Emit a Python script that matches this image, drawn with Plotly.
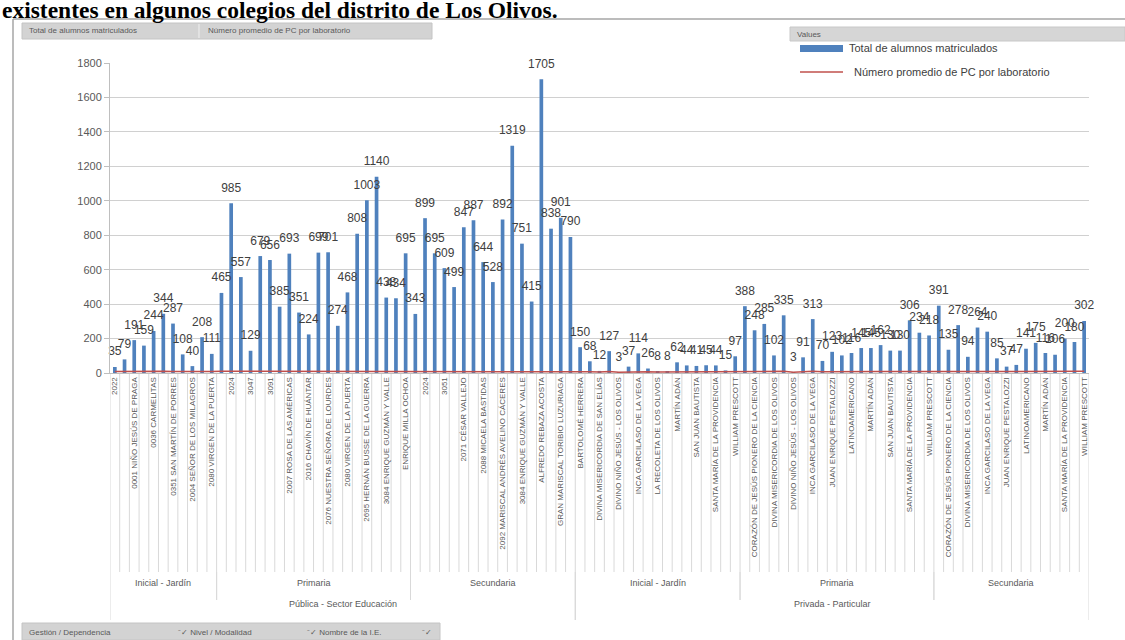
import plotly.graph_objects as go

# ---------------- data ----------------
gestion_labels = ["Pública - Sector Educación", "Privada - Particular"]
nivel_labels = ["Inicial - Jardín", "Primaria", "Secundaria"]

# Total de alumnos matriculados
pub_inicial = [35, 79, 191, 159, 244, 344, 287, 108, 40, 208, 111]
pub_primaria = [465, 985, 557, 129, 679, 656, 385, 693, 351, 224,
                699, 701, 274, 468, 808, 1003, 1140, 438, 434, 695]
pub_secundaria = [343, 899, 695, 609, 499, 847, 887, 644, 528, 892,
                  1319, 751, 415, 1705, 838, 901, 790]
priv_inicial = [150, 68, 12, 127, 3, 37, 114, 26, 8, 8, 62, 44, 41, 45, 44, 15, 97]
priv_primaria = [388, 248, 285, 102, 335, 3, 91, 313, 70, 123,
                 102, 116, 145, 145, 162, 130, 130, 306, 234, 218]
priv_secundaria = [391, 135, 278, 94, 264, 240, 85, 37, 47, 141,
                   175, 116, 106, 200, 180, 302]

# Número promedio de PC por laboratorio (estimated, near the baseline)
pc_pub_inicial = [8, 9, 10, 8, 9, 10, 9, 8, 7, 9, 8]
pc_pub_primaria = [10, 10, 10, 9, 10, 10, 9, 10, 9, 9, 10, 10, 9, 9, 10, 10, 11, 9, 9, 10]
pc_pub_secundaria = [9, 10, 10, 10, 9, 10, 10, 10, 9, 10, 11, 10, 9, 11, 10, 10, 10]
pc_priv_inicial = [8, 7, 6, 8, 5, 7, 8, 7, 6, 6, 7, 7, 7, 7, 7, 6, 8]
pc_priv_primaria = [10, 9, 9, 8, 10, 5, 8, 10, 7, 8, 8, 8, 9, 9, 9, 8, 8, 10, 9, 9]
pc_priv_secundaria = [10, 8, 9, 8, 9, 9, 8, 7, 7, 9, 9, 8, 8, 9, 9, 10]

# Visible (every other) category labels, per group
lab_pub_inicial = ["2022", "0001 NIÑO JESÚS DE PRAGA", "0036 CARMELITAS",
                   "0351 SAN MARTÍN DE PORRES", "2004 SEÑOR DE LOS MILAGROS",
                   "2080 VIRGEN DE LA PUERTA"]
lab_pub_primaria = ["2024", "3047", "3091", "2007 ROSA DE LAS AMÉRICAS",
                    "2016 CHAVÍN DE HUÁNTAR", "2076 NUESTRA SEÑORA DE LOURDES",
                    "2080 VIRGEN DE LA PUERTA", "2695 HERNÁN BUSSE DE LA GUERRA",
                    "3084 ENRIQUE GUZMÁN Y VALLE", "ENRIQUE MILLA OCHOA"]
lab_pub_secundaria = ["2024", "3051", "2071 CÉSAR VALLEJO", "2088 MICAELA BASTIDAS",
                      "2092 MARISCAL ANDRÉS AVELINO CÁCERES", "3084 ENRIQUE GUZMÁN Y VALLE",
                      "ALFREDO REBAZA ACOSTA", "GRAN MARISCAL TORIBIO LUZURIAGA"]
lab_priv_inicial = ["BARTOLOMÉ HERRERA", "DIVINA MISERICORDIA DE SAN ELÍAS",
                    "DIVINO NIÑO JESÚS - LOS OLIVOS", "INCA GARCILASO DE LA VEGA",
                    "LA RECOLETA DE LOS OLIVOS", "MARTÍN ADÁN", "SAN JUAN BAUTISTA",
                    "SANTA MARÍA DE LA PROVIDENCIA", "WILLIAM PRESCOTT"]
lab_priv_primaria = ["CORAZÓN DE JESÚS PIONERO DE LA CIENCIA", "DIVINA MISERICORDIA DE LOS OLIVOS",
                     "DIVINO NIÑO JESÚS - LOS OLIVOS", "INCA GARCILASO DE LA VEGA",
                     "JUAN ENRIQUE PESTALOZZI", "LATINOAMERICANO", "MARTÍN ADÁN",
                     "SAN JUAN BAUTISTA", "SANTA MARÍA DE LA PROVIDENCIA", "WILLIAM PRESCOTT"]
lab_priv_secundaria = ["CORAZÓN DE JESÚS PIONERO DE LA CIENCIA", "DIVINA MISERICORDIA DE LOS OLIVOS",
                       "INCA GARCILASO DE LA VEGA", "JUAN ENRIQUE PESTALOZZI", "LATINOAMERICANO",
                       "MARTÍN ADÁN", "SANTA MARÍA DE LA PROVIDENCIA", "WILLIAM PRESCOTT"]

groups = [
    (0, 0, pub_inicial, pc_pub_inicial, lab_pub_inicial),
    (0, 1, pub_primaria, pc_pub_primaria, lab_pub_primaria),
    (0, 2, pub_secundaria, pc_pub_secundaria, lab_pub_secundaria),
    (1, 0, priv_inicial, pc_priv_inicial, lab_priv_inicial),
    (1, 1, priv_primaria, pc_priv_primaria, lab_priv_primaria),
    (1, 2, priv_secundaria, pc_priv_secundaria, lab_priv_secundaria),
]

xs, ys, pcs, ticktext = [], [], [], []
nivel_spans, gestion_spans = [], {}
pos = 0
for g, n, vals, pcv, labs in groups:
    start = pos
    for v, p in zip(vals, pcv):
        xs.append(pos); ys.append(v); pcs.append(p)
        pos += 1
    nivel_spans.append((n, start, pos))
    gs = gestion_spans.get(g, [start, pos])
    gestion_spans[g] = [min(gs[0], start), max(gs[1], pos)]
    ticktext += labs
N = pos
tickvals = list(range(0, N, 2))

# ---------------- layout helpers (pixel -> paper) ----------------
W, H = 1125, 640
L, R, T, B = 110, 1089, 63, 373
def px(x):
    return (x - L) / (R - L)
def py(y):
    return (B - y) / (B - T)

GRAY_TXT = "#595959"
LINE = "#d0d0d0"
FONT = "Liberation Sans"

fig = go.Figure()
fig.add_trace(go.Bar(
    x=xs, y=ys, width=0.38, name="Total de alumnos matriculados",
    marker=dict(color="#4F81BD", line=dict(width=0)),
    showlegend=False, hoverinfo="x+y",
))
fig.add_trace(go.Scatter(
    x=xs, y=pcs, mode="lines", name="Número promedio de PC por laboratorio",
    line=dict(color="#C0504D", width=1.5), showlegend=False,
))
# data labels of the bars
fig.add_trace(go.Scatter(
    x=xs, y=ys, mode="markers+text", text=[str(v) for v in ys],
    textposition="top center", marker=dict(size=12, opacity=0),
    textfont=dict(family=FONT, size=12, color="#404040"),
    cliponaxis=False, showlegend=False, hoverinfo="skip",
))

shapes = []
annotations = []

# category separators in the label area
y_tick_bot = py(572)
y_niv_bot = py(600)
y_ges_bot = py(620)
for k in range(N + 1):
    shapes.append(dict(type="line", xref="x", yref="paper", x0=k - 0.5, x1=k - 0.5,
                       y0=0, y1=y_tick_bot, line=dict(color="#d9d9d9", width=1), layer="below"))
for n, s, e in nivel_spans:
    for b in (s, e):
        shapes.append(dict(type="line", xref="x", yref="paper", x0=b - 0.5, x1=b - 0.5,
                           y0=y_tick_bot, y1=y_niv_bot, line=dict(color="#d9d9d9", width=1)))
    annotations.append(dict(xref="x", yref="paper", x=(s + e - 1) / 2, y=py(590),
                            text=nivel_labels[n], showarrow=False,
                            font=dict(family=FONT, size=9, color=GRAY_TXT)))
for g, (s, e) in gestion_spans.items():
    for b in (s, e):
        shapes.append(dict(type="line", xref="x", yref="paper", x0=b - 0.5, x1=b - 0.5,
                           y0=y_niv_bot, y1=y_ges_bot, line=dict(color="#d9d9d9", width=1)))
    annotations.append(dict(xref="x", yref="paper", x=(s + e - 1) / 2, y=py(611),
                            text=gestion_labels[g], showarrow=False,
                            font=dict(family=FONT, size=9, color=GRAY_TXT)))

# legend box (white, covering gridlines) + entries
shapes.append(dict(type="rect", xref="paper", yref="paper", x0=px(792), x1=px(1125),
                   y0=py(90), y1=py(41), fillcolor="white", line=dict(width=0), layer="above"))
shapes.append(dict(type="rect", xref="paper", yref="paper", x0=px(800), x1=px(843),
                   y0=py(52), y1=py(45), fillcolor="#4F81BD", line=dict(width=0), layer="above"))
shapes.append(dict(type="line", xref="paper", yref="paper", x0=px(800), x1=px(843),
                   y0=py(72), y1=py(72), line=dict(color="#C0504D", width=1.5), layer="above"))
annotations.append(dict(xref="paper", yref="paper", x=px(847), y=py(48), xanchor="left",
                        yanchor="middle", text="Total de alumnos matriculados", showarrow=False,
                        font=dict(family=FONT, size=11, color="#404040")))
annotations.append(dict(xref="paper", yref="paper", x=px(852), y=py(72), xanchor="left",
                        yanchor="middle", text="Número promedio de PC por laboratorio", showarrow=False,
                        font=dict(family=FONT, size=11, color="#404040")))

# "Values" bar
shapes.append(dict(type="rect", xref="paper", yref="paper", x0=px(790), x1=px(1125),
                   y0=py(41), y1=py(27), fillcolor="#d6d6d6", line=dict(color="#c8c8c8", width=1),
                   layer="above"))
annotations.append(dict(xref="paper", yref="paper", x=px(795), y=py(34), xanchor="left",
                        yanchor="middle", text="Values", showarrow=False,
                        font=dict(family=FONT, size=8, color=GRAY_TXT)))

# top-left field buttons
shapes.append(dict(type="rect", xref="paper", yref="paper", x0=px(22), x1=px(432),
                   y0=py(39), y1=py(23), fillcolor="#d3d3d3", line=dict(color="#c4c4c4", width=1),
                   layer="above"))
shapes.append(dict(type="line", xref="paper", yref="paper", x0=px(199), x1=px(199),
                   y0=py(38), y1=py(24), line=dict(color="#f0f0f0", width=1), layer="above"))
annotations.append(dict(xref="paper", yref="paper", x=px(27), y=py(31), xanchor="left",
                        yanchor="middle", text="Total de alumnos matriculados", showarrow=False,
                        font=dict(family=FONT, size=8, color=GRAY_TXT)))
annotations.append(dict(xref="paper", yref="paper", x=px(206), y=py(31), xanchor="left",
                        yanchor="middle", text="Número promedio de PC por laboratorio", showarrow=False,
                        font=dict(family=FONT, size=8, color=GRAY_TXT)))

# bottom field buttons
shapes.append(dict(type="rect", xref="paper", yref="paper", x0=px(22), x1=px(440),
                   y0=py(640), y1=py(623), fillcolor="#d3d3d3", line=dict(color="#c4c4c4", width=1),
                   layer="above"))
for xx, txt in [(27, "Gestión / Dependencia"), (176, "⁻✓ Nivel / Modalidad"),
                (305, "⁻✓ Nombre de la I.E."), (420, "⁻✓")]:
    annotations.append(dict(xref="paper", yref="paper", x=px(xx), y=py(632), xanchor="left",
                            yanchor="middle", text=txt, showarrow=False,
                            font=dict(family=FONT, size=8, color=GRAY_TXT)))

# outer frame
shapes.append(dict(type="line", xref="paper", yref="paper", x0=px(13), x1=px(1125),
                   y0=py(19), y1=py(19), line=dict(color="#a6a6a6", width=1.5), layer="above"))
shapes.append(dict(type="line", xref="paper", yref="paper", x0=px(13), x1=px(13),
                   y0=py(19), y1=py(640), line=dict(color="#a6a6a6", width=1.5), layer="above"))

# document title (cropped at the top)
annotations.append(dict(xref="paper", yref="paper", x=px(0), y=py(25), xanchor="left",
                        yanchor="bottom",
                        text="<b>existentes en algunos colegios del distrito de Los Olivos.</b>",
                        showarrow=False,
                        font=dict(family="Liberation Serif", size=23.5, color="black")))

fig.update_layout(
    width=W, height=H,
    margin=dict(l=L, r=W - R, t=T, b=H - B),
    paper_bgcolor="white", plot_bgcolor="white",
    shapes=shapes, annotations=annotations,
    font=dict(family=FONT),
    xaxis=dict(range=[-0.5, N - 0.5], tickmode="array", tickvals=tickvals, ticktext=ticktext,
               tickangle=-90, tickfont=dict(family="Liberation Sans Narrow, Liberation Sans", size=8, color=GRAY_TXT),
               showline=True, linecolor="#bfbfbf", showgrid=False, zeroline=False,
               ticks="", automargin=False),
    yaxis=dict(range=[0, 1800], dtick=200, showgrid=True, gridcolor=LINE, gridwidth=1,
               ticks="outside", ticklen=5, tickcolor="#bfbfbf", showline=True, linecolor="#bfbfbf",
               tickfont=dict(family=FONT, size=11, color=GRAY_TXT), zeroline=False,
               automargin=False),
)

fig.write_html("out.html")
